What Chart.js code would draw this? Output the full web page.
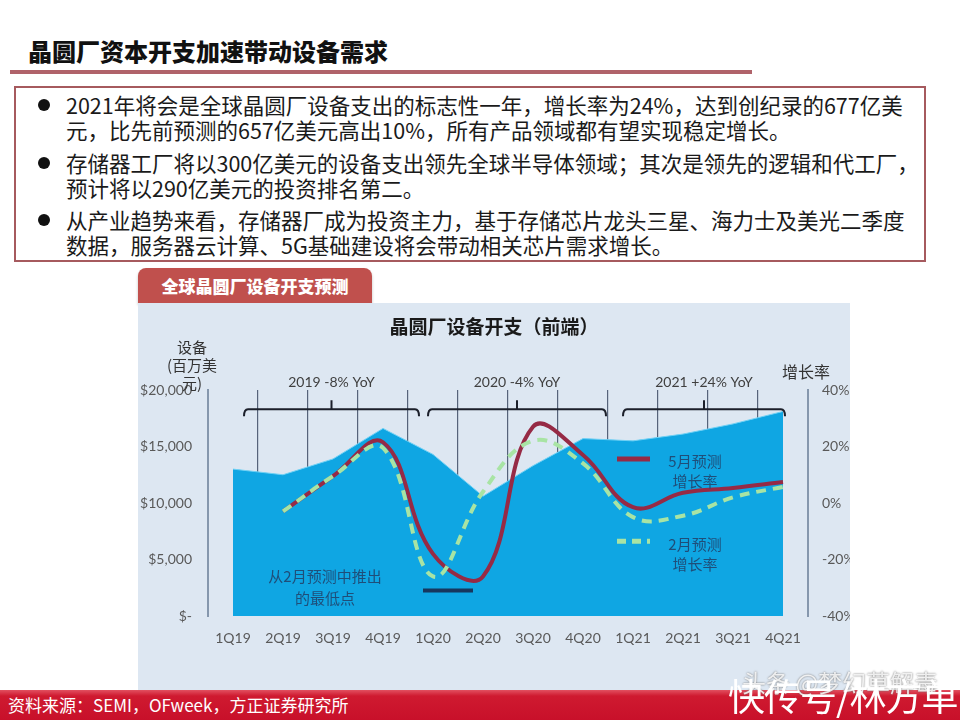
<!DOCTYPE html>
<html>
<head>
<meta charset="utf-8">
<script src="https://cdn.jsdelivr.net/npm/chart.js@4.4.1/dist/chart.umd.min.js"></script>
<style>
body { margin: 0; width: 960px; height: 720px; position: relative; overflow: hidden; background: #fff; font-family: "Noto Sans CJK SC", sans-serif; }
.abs { position: absolute; white-space: nowrap; }
#title { left: 28px; top: 35px; font-size: 24px; font-weight: 900; color: #111; line-height: 32px; }
#rule { left: 10px; top: 70px; width: 742px; height: 4px; background: #b0636a; }
#box { left: 14px; top: 86px; width: 908px; height: 172px; border: 2px solid #a65a5e; }
.txt { left: 66px; font-size: 21.5px; line-height: 25px; color: #1a1a1a; }
.dot { width: 12px; height: 12px; border-radius: 50%; background: #111; left: 38px; }
#tab { left: 138px; top: 268px; width: 234px; height: 35px; background: #c0504d; border-radius: 8px 8px 0 0; color: #fff; font-weight: 900; font-size: 17px; line-height: 35px; text-align: center; box-shadow: 0 2px 3px rgba(0,0,0,0.25); }
#panel { left: 138px; top: 303px; width: 712px; height: 387px; background: #dde7f2; }
#ctitle { left: 138px; width: 712px; top: 312px; text-align: center; font-size: 19px; font-weight: 700; color: #1a1a1a; }
.axt { font-size: 15px; color: #333; line-height: 18px; text-align: center; }
#banner { left: 0; top: 690px; width: 960px; height: 30px; background: linear-gradient(180deg, #e25060 0%, #cf1a30 20%, #c8102a 100%); }
#src { left: 8px; top: 693px; font-size: 17px; color: #fff; line-height: 24px; }
#wm1 { left: 742px; top: 664px; font-size: 24px; color: rgba(255,255,255,0.85); text-shadow: 0 0 2px #666; }
#wm2 { left: 728px; top: 668px; font-size: 37px; color: #fff; letter-spacing: -1px; }
</style>
</head>
<body>
<div id="title" class="abs">晶圆厂资本开支加速带动设备需求</div>
<div id="rule" class="abs"></div>
<div id="box" class="abs"></div>
<div class="abs dot" style="top:99px"></div>
<div class="abs txt" style="top:92px">2021年将会是全球晶圆厂设备支出的标志性一年，增长率为24%，达到创纪录的677亿美<br>元，比先前预测的657亿美元高出10%，所有产品领域都有望实现稳定增长。</div>
<div class="abs dot" style="top:157px"></div>
<div class="abs txt" style="top:150px">存储器工厂将以300亿美元的设备支出领先全球半导体领域；其次是领先的逻辑和代工厂，<br>预计将以290亿美元的投资排名第二。</div>
<div class="abs dot" style="top:214px"></div>
<div class="abs txt" style="top:207px">从产业趋势来看，存储器厂成为投资主力，基于存储芯片龙头三星、海力士及美光二季度<br>数据，服务器云计算、5G基础建设将会带动相关芯片需求增长。</div>

<div id="tab" class="abs">全球晶圆厂设备开支预测</div>
<div id="panel" class="abs"><canvas id="chart" width="712" height="387"></canvas></div>
<div id="ctitle" class="abs">晶圆厂设备开支（前端）</div>
<div class="abs axt" style="left:160px; top:338px; width:64px;">设备<br>(百万美<br>元)</div>
<div class="abs axt" style="left:776px; top:362px; width:60px; font-size:16px;">增长率</div>

<div id="banner" class="abs"></div>
<div id="src" class="abs">资料来源：SEMI，OFweek，方正证券研究所</div>
<div id="wm1" class="abs">头条 @梦幻草解毒</div>
<div id="wm2" class="abs">快传号/林方单</div>

<script>
// 数据
const quarters = ['1Q19', '2Q19', '3Q19', '4Q19', '1Q20', '2Q20', '3Q20', '4Q20', '1Q21', '2Q21', '3Q21', '4Q21'];
const equipSpend = [13000, 12500, 13900, 16600, 14300, 10600, 13300, 15700, 15500, 16100, 17000, 18100];
const mayGrowth = [null, -3, 9.5, 21.5, -18, -26, 27, 17, -1.5, 3.6, 5.3, 7.4];
const febGrowth = [null, -3, 9.5, 19.5, -26, 4, 22, 14, -5, -4.5, 2, 5.7];
const spendTicks = ['$-', '$5,000', '$10,000', '$15,000', '$20,000'];
const growthTicks = ['-40%', '-20%', '0%', '20%', '40%'];

// 年度括号（按季度序号定位）
const bracketLabels = ['2019 -8% YoY', '2020 -4% YoY', '2021 +24% YoY'];
const bracketFrom = [0.22, 3.9, 7.8];
const bracketTo = [3.72, 7.46, 11.04];
const bracketLevel = 18300;

const mayColor = '#962a45';
const febColor = '#a8e4a4';
const noteColor = '#1f4e79';

// 括号、注释与图例
const overlayPlugin = {
    id: 'overlay',
    afterDatasetsDraw(chart) {
        const { ctx, scales: { x, y, y1 } } = chart;
        ctx.save();

        // 年度括号
        const by = y.getPixelForValue(bracketLevel);
        ctx.strokeStyle = '#1b1f2a';
        ctx.lineWidth = 2;
        ctx.font = '14px Lato, "Noto Sans", sans-serif';
        ctx.fillStyle = '#404040';
        ctx.textAlign = 'center';
        ctx.textBaseline = 'middle';
        bracketLabels.forEach((label, i) => {
            const x0 = x.getPixelForValue(bracketFrom[i]);
            const x1 = x.getPixelForValue(bracketTo[i]);
            const mid = (x0 + x1) / 2;
            ctx.beginPath();
            ctx.moveTo(x0, by + 7);
            ctx.quadraticCurveTo(x0, by, x0 + 4, by);
            ctx.lineTo(x1 - 4, by);
            ctx.quadraticCurveTo(x1, by, x1, by + 7);
            ctx.moveTo(mid, by);
            ctx.lineTo(mid, by - 9);
            ctx.stroke();
            ctx.fillText(label, mid, by - 27);
        });

        // 最低点注释
        ctx.font = '15px "Noto Sans CJK SC", sans-serif';
        ctx.fillStyle = noteColor;
        const nx = x.getPixelForValue(1.84);
        ctx.fillText('从2月预测中推出', nx, y.getPixelForValue(3540));
        ctx.fillText('的最低点', nx, y.getPixelForValue(1590));
        ctx.strokeStyle = '#17375e';
        ctx.lineWidth = 4;
        ctx.beginPath();
        const lowY = y1.getPixelForValue(-31);
        ctx.moveTo(x.getPixelForValue(3.8), lowY);
        ctx.lineTo(x.getPixelForValue(4.8), lowY);
        ctx.stroke();

        // 图例
        const lx0 = x.getPixelForValue(7.68);
        const lx1 = x.getPixelForValue(8.34);
        const tx = x.getPixelForValue(9.24);
        ctx.lineWidth = 5;
        ctx.strokeStyle = mayColor;
        ctx.beginPath();
        ctx.moveTo(lx0, y1.getPixelForValue(15.6));
        ctx.lineTo(lx1, y1.getPixelForValue(15.6));
        ctx.stroke();
        ctx.strokeStyle = febColor;
        ctx.setLineDash([9, 6]);
        ctx.beginPath();
        ctx.moveTo(lx0, y1.getPixelForValue(-13.5));
        ctx.lineTo(lx1, y1.getPixelForValue(-13.5));
        ctx.stroke();
        ctx.setLineDash([]);
        ctx.fillText('5月预测', tx, y1.getPixelForValue(14.9));
        ctx.fillText('增长率', tx, y1.getPixelForValue(7.8));
        ctx.fillText('2月预测', tx, y1.getPixelForValue(-14.6));
        ctx.fillText('增长率', tx, y1.getPixelForValue(-21.7));

        ctx.restore();
    }
};

const tickFont = { family: 'Lato, "Noto Sans", sans-serif', size: 14 };

new Chart(document.getElementById('chart'), {
    type: 'line',
    data: {
        labels: quarters,
        datasets: [
            {
                label: '2月预测增长率',
                data: febGrowth,
                yAxisID: 'y1',
                borderColor: febColor,
                borderWidth: 4,
                borderDash: [10, 7],
                pointRadius: 0,
                tension: 0.4,
                fill: false,
                order: 1
            },
            {
                label: '5月预测增长率',
                data: mayGrowth,
                yAxisID: 'y1',
                borderColor: mayColor,
                borderWidth: 4,
                pointRadius: 0,
                tension: 0.4,
                fill: false,
                order: 2
            },
            {
                label: '设备',
                data: equipSpend,
                yAxisID: 'y',
                borderColor: '#6fd0f4',
                borderWidth: 1,
                backgroundColor: '#0fa6e3',
                pointRadius: 0,
                tension: 0,
                fill: 'origin',
                order: 3
            }
        ]
    },
    options: {
        responsive: false,
        animation: false,
        layout: { padding: { top: 87, left: 0, right: 0, bottom: 0 } },
        plugins: {
            legend: { display: false },
            tooltip: { enabled: false }
        },
        scales: {
            x: {
                offset: true,
                grid: {
                    offset: true,
                    drawTicks: false,
                    lineWidth: 1.2,
                    color: ctx => (ctx.type === 'tick' && ctx.index > 0) ? '#56637a' : 'rgba(0,0,0,0)'
                },
                border: { display: false },
                ticks: { color: '#595959', font: tickFont, padding: 14, maxRotation: 0 },
                afterFit: scale => { scale.height = 74; }
            },
            y: {
                position: 'left',
                min: 0,
                max: 20000,
                grid: { display: false, drawTicks: false },
                border: { display: true, color: '#8597ad', width: 2 },
                ticks: {
                    stepSize: 5000,
                    color: '#595959',
                    font: tickFont,
                    padding: 16,
                    callback: (v, i) => spendTicks[i]
                },
                afterFit: scale => { scale.width = 70; }
            },
            y1: {
                position: 'right',
                min: -40,
                max: 40,
                grid: { display: false, drawTicks: false },
                border: { display: true, color: '#8597ad', width: 2 },
                ticks: {
                    stepSize: 20,
                    color: '#595959',
                    font: tickFont,
                    padding: 14,
                    callback: (v, i) => growthTicks[i]
                },
                afterFit: scale => { scale.width = 42; }
            }
        }
    },
    plugins: [overlayPlugin]
});
</script>
</body>
</html>
